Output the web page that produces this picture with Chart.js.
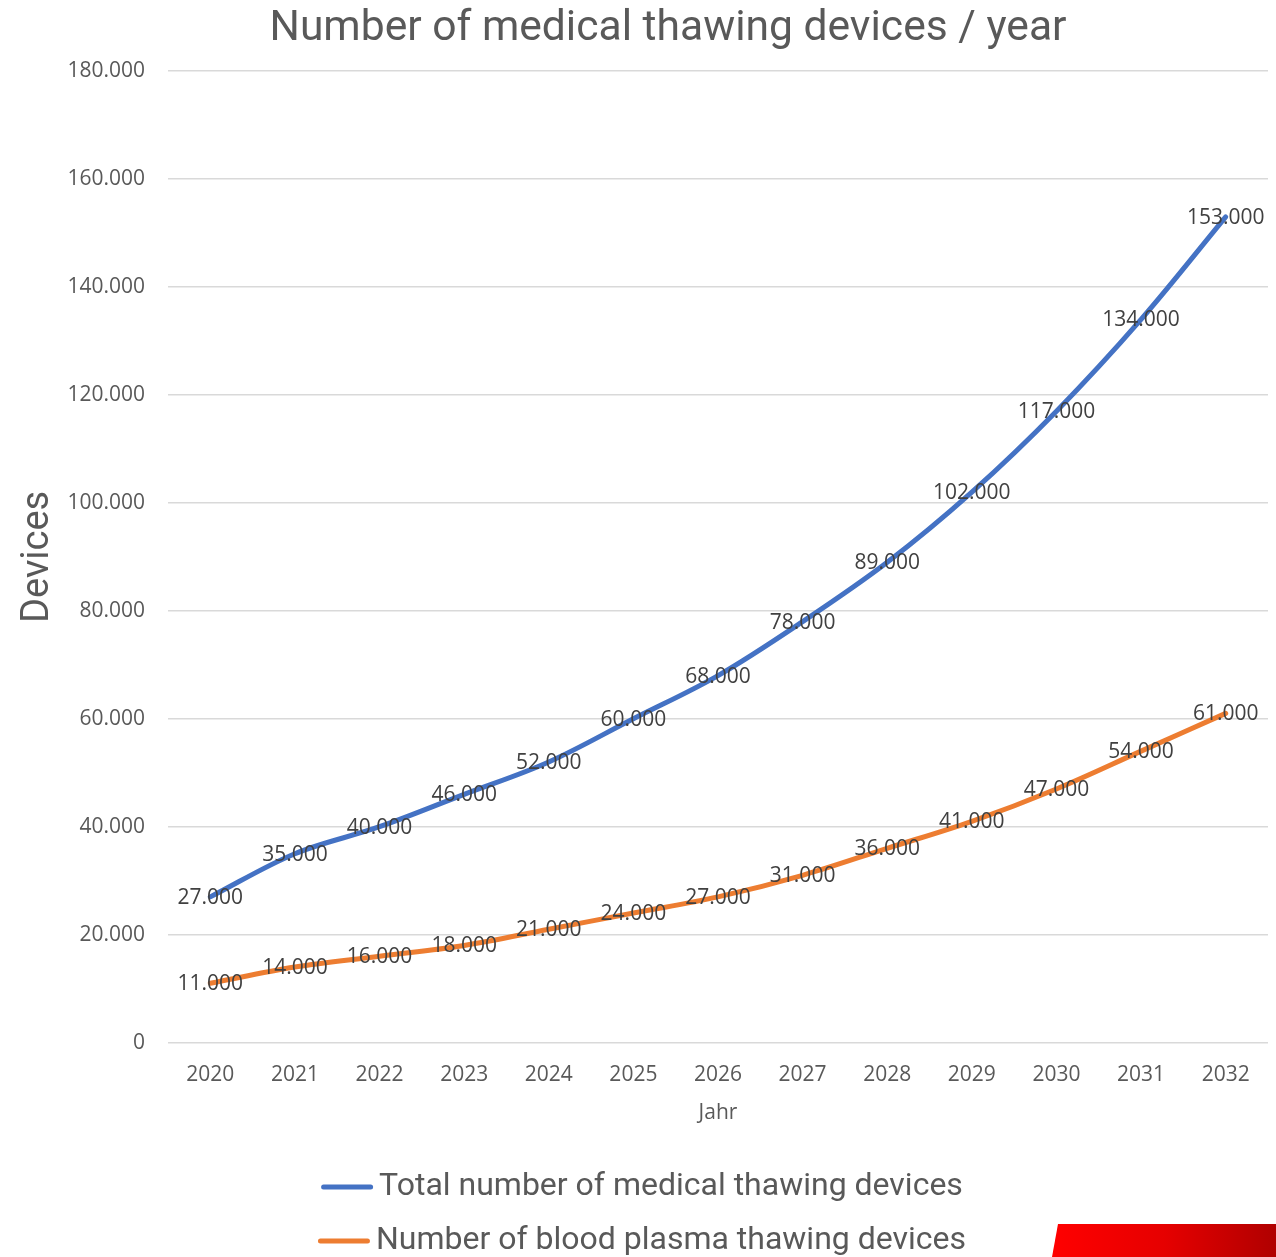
<!DOCTYPE html>
<html>
<head>
<meta charset="utf-8">
<script src="https://cdn.jsdelivr.net/npm/chart.js@4.4.1/dist/chart.umd.min.js"></script>
<style>
  html, body { margin: 0; padding: 0; background: #fff; overflow: hidden; }
  #wrap { position: relative; width: 1276px; height: 1257px; overflow: hidden; }
  #box { position: absolute; left: 0; top: 0; width: 1276px; height: 1267px; }
  #logo {
    position: absolute; left: 1052px; top: 1224px; width: 224px; height: 33px;
    background: linear-gradient(90deg, #ff0000 0%, #e60000 50%, #b00000 100%);
    clip-path: polygon(6px 0, 100% 0, 100% 100%, 0 100%);
  }
</style>
</head>
<body>
<div id="wrap">
  <div id="box"><canvas id="chart"></canvas></div>
  <div id="logo"></div>
</div>
<script>
// --- data ---
const years = ['2020','2021','2022','2023','2024','2025','2026','2027','2028','2029','2030','2031','2032'];
const totalDevices  = [27000, 35000, 40000, 46000, 52000, 60000, 68000, 78000, 89000, 102000, 117000, 134000, 153000];
const plasmaDevices = [11000, 14000, 16000, 18000, 21000, 24000, 27000, 31000, 36000, 41000, 47000, 54000, 61000];
const seriesNames = ['Total number of medical thawing devices', 'Number of blood plasma thawing devices'];
const seriesColors = ['#4472C4', '#ED7D31'];

// 12345 -> "12.345"
function fmtDE(v) {
  return String(Math.round(v)).replace(/\B(?=(\d{3})+(?!\d))/g, '.');
}

// Werte direkt auf den Punkten
const pointLabels = {
  id: 'pointLabels',
  afterDatasetsDraw(chart) {
    const ctx = chart.ctx;
    ctx.save();
    ctx.font = '21px "Open Sans"';
    ctx.fillStyle = '#404040';
    ctx.textAlign = 'center';
    ctx.textBaseline = 'middle';
    chart.data.datasets.forEach((ds, i) => {
      chart.getDatasetMeta(i).data.forEach((pt, j) => {
        ctx.fillText(fmtDE(ds.data[j]), pt.x, pt.y + 1);
      });
    });
    ctx.restore();
  }
};

// Legende: runde Linien statt Kästchen; Titel etwas nach rechts (wie Plotbereich)
const legendLines = {
  id: 'legendLines',
  afterLayout(chart) {
    if (chart.titleBlock) chart.titleBlock.left += 52;
  },
  afterDraw(chart) {
    const lg = chart.legend;
    if (!lg || !lg.legendHitBoxes) return;
    const ctx = chart.ctx;
    ctx.save();
    ctx.lineWidth = 5;
    ctx.lineCap = 'round';
    lg.legendHitBoxes.forEach((hb, i) => {
      const y = hb.top + hb.height / 2;
      ctx.strokeStyle = seriesColors[i];
      ctx.beginPath();
      ctx.moveTo(hb.left + 2.5, y);
      ctx.lineTo(hb.left + 49.5, y);
      ctx.stroke();
    });
    ctx.restore();
  }
};

new Chart(document.getElementById('chart'), {
  type: 'line',
  data: {
    labels: years,
    datasets: [
      { label: seriesNames[0], data: totalDevices, borderColor: seriesColors[0], backgroundColor: seriesColors[0],
        borderWidth: 5, pointRadius: 0, tension: 0.35, borderCapStyle: 'round' },
      { label: seriesNames[1], data: plasmaDevices, borderColor: seriesColors[1], backgroundColor: seriesColors[1],
        borderWidth: 5, pointRadius: 0, tension: 0.35, borderCapStyle: 'round' }
    ]
  },
  options: {
    responsive: true,
    maintainAspectRatio: false,
    animation: false,
    layout: { padding: { left: 16, right: 8, top: 0, bottom: 0 } },
    plugins: {
      title: {
        display: true,
        text: 'Number of medical thawing devices / year',
        color: '#595959',
        font: { family: 'Roboto', size: 42.6, weight: 'normal' },
        padding: { top: 4, bottom: 16 }
      },
      legend: {
        position: 'bottom',
        labels: {
          color: '#595959',
          font: { family: 'Roboto', size: 32 },
          boxWidth: 42,
          boxHeight: 5,
          padding: 22,
          generateLabels(chart) {
            const items = Chart.defaults.plugins.legend.labels.generateLabels(chart);
            items.forEach(it => { it.fillStyle = 'rgba(0,0,0,0)'; it.strokeStyle = 'rgba(0,0,0,0)'; it.lineWidth = 0; });
            return items;
          }
        }
      },
      tooltip: { enabled: false }
    },
    scales: {
      x: {
        offset: true,
        grid: { display: false },
        border: { display: false },
        ticks: { color: '#595959', font: { family: 'Open Sans', size: 21 }, padding: 12, maxRotation: 0 },
        title: { display: true, text: 'Jahr', color: '#595959', font: { family: 'Open Sans', size: 21 }, padding: { top: 1, bottom: 23 } }
      },
      y: {
        min: 0, max: 180000,
        afterFit(scale) { scale.width = 152; },
        grid: { color: '#d9d9d9', lineWidth: 1.5, drawTicks: false },
        border: { display: false },
        ticks: { stepSize: 20000, color: '#595959', font: { family: 'Open Sans', size: 21 }, padding: 23,
                 callback: v => fmtDE(v) },
        title: { display: true, text: 'Devices', color: '#595959', font: { family: 'Roboto', size: 38 }, padding: { top: 0, bottom: 5 } }
      }
    }
  },
  plugins: [pointLabels, legendLines]
});
</script>
</body>
</html>
